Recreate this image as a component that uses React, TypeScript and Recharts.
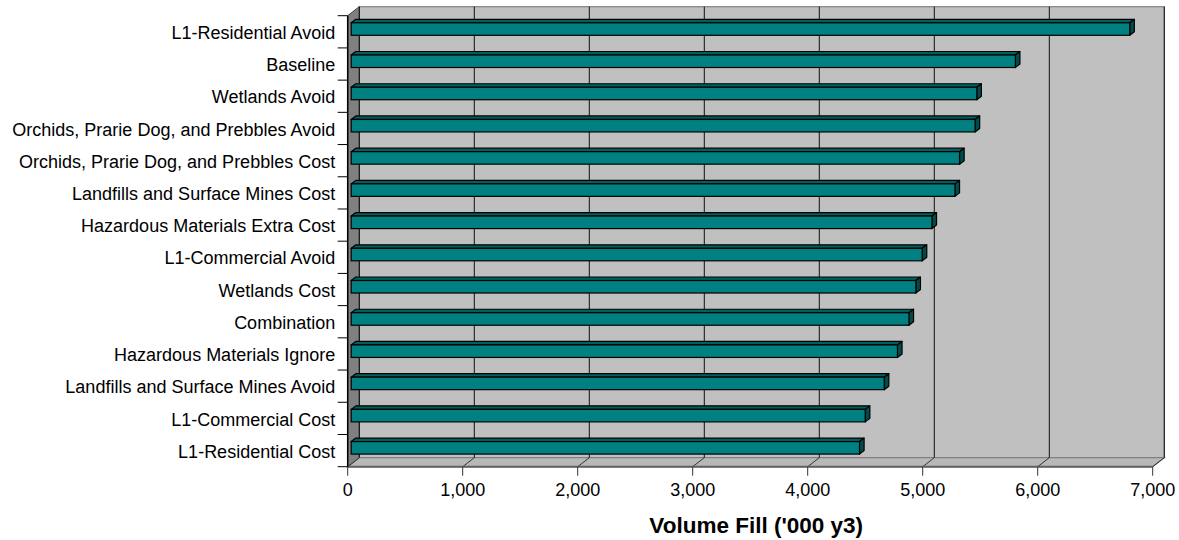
import React from 'react';
import { BarChart, Bar, XAxis, YAxis, CartesianGrid, ReferenceArea } from 'recharts';

const categories = [
  'L1-Residential Avoid',
  'Baseline',
  'Wetlands Avoid',
  'Orchids, Prarie Dog, and Prebbles Avoid',
  'Orchids, Prarie Dog, and Prebbles Cost',
  'Landfills and Surface Mines Cost',
  'Hazardous Materials Extra Cost',
  'L1-Commercial Avoid',
  'Wetlands Cost',
  'Combination',
  'Hazardous Materials Ignore',
  'Landfills and Surface Mines Avoid',
  'L1-Commercial Cost',
  'L1-Residential Cost',
];

const volumeFill = [6770, 5775, 5440, 5425, 5290, 5250, 5050, 4965, 4910, 4850, 4750, 4635, 4470, 4420];

const xTicks = [0, 1000, 2000, 3000, 4000, 5000, 6000, 7000];

const axisTitle = "Volume Fill ('000 y3)";

const data = categories.map((name, i) => ({ name, value: volumeFill[i] }));

const FONT = '"Liberation Sans", Arial, Helvetica, sans-serif';
const DX = 11.6;
const DY = 9;
const BAR_OFF_X = 3.5;
const BAR_OFF_Y = 2.9;
const BAR_DX = 4.6;
const BAR_DY = 3.5;

const fmt = (v: number) => v.toLocaleString('en-US');

const Walls = (props: any) => {
  const { x, y, width, height } = props;
  const bx = x + DX;
  const by = y - DY;
  const bottom = y + height;
  return (
    <g>
      <rect x={bx} y={by} width={width} height={height} fill="#C0C0C0" stroke="#808080" strokeWidth={1.2} />
      <polygon
        points={`${x},${y} ${bx},${by} ${bx},${by + height} ${x},${bottom}`}
        fill="#808080"
        stroke="#404040"
        strokeWidth={1}
      />
      <polygon
        points={`${x},${bottom} ${bx},${by + height} ${bx + width},${by + height} ${x + width},${bottom}`}
        fill="#B8B8B8"
        stroke="#808080"
        strokeWidth={1.2}
      />
    </g>
  );
};

const renderVLine = (p: any) => {
  const { x1, y1, y2, index } = p;
  return (
    <g key={`v-${index}`}>
      <line x1={x1 + DX} y1={y1 - DY} x2={x1 + DX} y2={y2 - DY} stroke="#111" strokeWidth={1} />
      <line x1={x1} y1={y2} x2={x1 + DX} y2={y2 - DY} stroke="#333" strokeWidth={1} />
    </g>
  );
};

const Bar3D = (props: any) => {
  const { x, y, width, height } = props;
  if (width == null || height == null) return null;
  const fx = x + BAR_OFF_X;
  const fy = y - BAR_OFF_Y;
  const w = width;
  const h = height;
  return (
    <g>
      <polygon
        points={`${fx},${fy} ${fx + BAR_DX},${fy - BAR_DY} ${fx + w + BAR_DX},${fy - BAR_DY} ${fx + w},${fy}`}
        fill="#005F5F"
        stroke="#000"
        strokeWidth={1.2}
        strokeLinejoin="round"
      />
      <polygon
        points={`${fx + w},${fy} ${fx + w + BAR_DX},${fy - BAR_DY} ${fx + w + BAR_DX},${fy + h - BAR_DY} ${fx + w},${fy + h}`}
        fill="#004C4C"
        stroke="#000"
        strokeWidth={1.2}
        strokeLinejoin="round"
      />
      <rect x={fx} y={fy} width={w} height={h} fill="#008080" stroke="#000" strokeWidth={1.2} />
    </g>
  );
};

const YTick = (props: any) => {
  const { x, y, payload, index } = props;
  const half = payload && payload.offset ? payload.offset : 16.1;
  const last = index === categories.length - 1;
  return (
    <g>
      <line x1={x - 10} y1={y - half} x2={x} y2={y - half} stroke="#000" strokeWidth={1} />
      {last ? <line x1={x - 10} y1={y + half} x2={x} y2={y + half} stroke="#000" strokeWidth={1} /> : null}
      <text x={x - 12.5} y={y + 0.7} dy="0.36em" textAnchor="end" fontFamily={FONT} fontSize={18} fill="#000">
        {payload.value}
      </text>
    </g>
  );
};

const XTick = (props: any) => {
  const { x, y, payload } = props;
  return (
    <g>
      <line x1={x} y1={y} x2={x} y2={y + 9} stroke="#333" strokeWidth={1} />
      <text x={x} y={y + 29.5} textAnchor="middle" fontFamily={FONT} fontSize={18} fill="#000">
        {fmt(payload.value)}
      </text>
    </g>
  );
};

const TitleLabel = (props: any) => {
  const vb = props.viewBox || {};
  const cx = (vb.x ?? 0) + (vb.width ?? 0) / 2 + 6;
  const ty = (vb.y ?? 0) + 66;
  return (
    <text x={cx} y={ty} textAnchor="middle" fontFamily={FONT} fontSize={22.5} fontWeight="bold" fill="#000">
      {axisTitle}
    </text>
  );
};

export default function App() {
  return (
    <div style={{ position: 'absolute', left: 0, top: 0, width: 1179, height: 540, background: '#fff' }}>
      <BarChart
        width={1179}
        height={540}
        data={data}
        layout="vertical"
        margin={{ top: 15.7, right: 26.3, bottom: 0, left: 0 }}
        barSize={12.5}
      >
        <ReferenceArea x1={0} x2={7000} ifOverflow="visible" shape={Walls} zIndex={-200} />
        <CartesianGrid horizontal={false} vertical={renderVLine} zIndex={-100} />
        <XAxis
          type="number"
          domain={[0, 7000]}
          ticks={xTicks}
          interval={0}
          height={73.3}
          tickSize={0}
          tickMargin={0}
          tickLine={false}
          axisLine={{ stroke: '#606060', strokeWidth: 2 }}
          tick={XTick}
          label={<TitleLabel />}
        />
        <YAxis
          type="category"
          dataKey="name"
          width={347.7}
          interval={0}
          tickSize={0}
          tickMargin={0}
          tickLine={false}
          axisLine={{ stroke: '#000', strokeWidth: 1.5 }}
          tick={YTick}
        />
        <Bar dataKey="value" isAnimationActive={false} shape={Bar3D} />
      </BarChart>
    </div>
  );
}
